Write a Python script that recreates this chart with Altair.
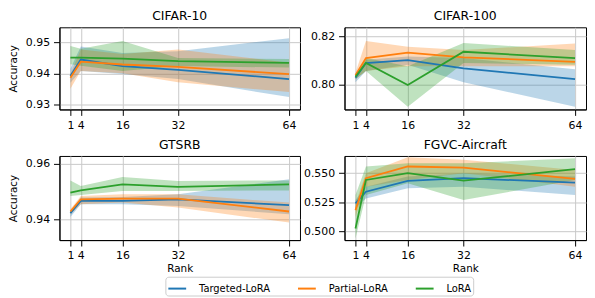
import altair as alt
import pandas as pd

ranks = [1, 4, 16, 32, 64]
methods = ["Targeted-LoRA", "Partial-LoRA", "LoRA"]
colors = ["#1f77b4", "#ff7f0e", "#2ca02c"]

# CIFAR-10
c10_mean = {
    "Targeted-LoRA": [0.9392, 0.9445, 0.9424, 0.9412, 0.9382],
    "Partial-LoRA": [0.9386, 0.9438, 0.9429, 0.9421, 0.9398],
    "LoRA": [0.9451, 0.9451, 0.9448, 0.9440, 0.9434],
}
c10_lo = {
    "Targeted-LoRA": [0.9370, 0.9408, 0.9398, 0.9382, 0.9324],
    "Partial-LoRA": [0.9351, 0.9408, 0.9401, 0.9372, 0.9340],
    "LoRA": [0.9430, 0.9425, 0.9408, 0.9424, 0.9419],
}
c10_hi = {
    "Targeted-LoRA": [0.9415, 0.9487, 0.9466, 0.9472, 0.9514],
    "Partial-LoRA": [0.9398, 0.9477, 0.9463, 0.9477, 0.9435],
    "LoRA": [0.9489, 0.9480, 0.9505, 0.9450, 0.9447],
}

# CIFAR-100
c100_mean = {
    "Targeted-LoRA": [0.8030, 0.8090, 0.8102, 0.8068, 0.8024],
    "Partial-LoRA": [0.8040, 0.8110, 0.8132, 0.8113, 0.8095],
    "LoRA": [0.8034, 0.8090, 0.8000, 0.8136, 0.8110],
}
c100_lo = {
    "Targeted-LoRA": [0.8011, 0.8057, 0.8083, 0.8011, 0.7911],
    "Partial-LoRA": [0.8024, 0.8057, 0.8077, 0.8077, 0.8077],
    "LoRA": [0.8024, 0.8057, 0.7911, 0.8090, 0.8083],
}
c100_hi = {
    "Targeted-LoRA": [0.8040, 0.8103, 0.8117, 0.8110, 0.8064],
    "Partial-LoRA": [0.8050, 0.8180, 0.8156, 0.8143, 0.8170],
    "LoRA": [0.8044, 0.8110, 0.8077, 0.8172, 0.8143],
}

# GTSRB
gts_mean = {
    "Targeted-LoRA": [0.9422, 0.9466, 0.9466, 0.9472, 0.9451],
    "Partial-LoRA": [0.9428, 0.9472, 0.9474, 0.9474, 0.9428],
    "LoRA": [0.9496, 0.9504, 0.9526, 0.9517, 0.9526],
}
gts_lo = {
    "Targeted-LoRA": [0.9408, 0.9454, 0.9454, 0.9448, 0.9418],
    "Partial-LoRA": [0.9418, 0.9454, 0.9460, 0.9442, 0.9388],
    "LoRA": [0.9484, 0.9487, 0.9502, 0.9502, 0.9504],
}
gts_hi = {
    "Targeted-LoRA": [0.9430, 0.9478, 0.9480, 0.9490, 0.9544],
    "Partial-LoRA": [0.9436, 0.9484, 0.9490, 0.9490, 0.9460],
    "LoRA": [0.9540, 0.9520, 0.9552, 0.9538, 0.9540],
}

# FGVC-Aircraft
fg_mean = {
    "Targeted-LoRA": [0.5241, 0.5341, 0.5433, 0.5456, 0.5419],
    "Partial-LoRA": [0.5184, 0.5456, 0.5556, 0.5547, 0.5450],
    "LoRA": [0.5027, 0.5441, 0.5499, 0.5436, 0.5533],
}
fg_lo = {
    "Targeted-LoRA": [0.5199, 0.5284, 0.5370, 0.5384, 0.5313],
    "Partial-LoRA": [0.5127, 0.5384, 0.5441, 0.5499, 0.5384],
    "LoRA": [0.4941, 0.5313, 0.5413, 0.5270, 0.5441],
}
fg_hi = {
    "Targeted-LoRA": [0.5270, 0.5384, 0.5470, 0.5499, 0.5470],
    "Partial-LoRA": [0.5241, 0.5499, 0.5636, 0.5613, 0.5527],
    "LoRA": [0.5313, 0.5556, 0.5584, 0.5584, 0.5627],
}

FONT = "DejaVu Sans"


def make_df(mean, lo, hi):
    rows = []
    for m in methods:
        for i, r in enumerate(ranks):
            rows.append({"rank": r, "method": m, "band": "band " + m,
                         "mean": mean[m][i], "lo": lo[m][i], "hi": hi[m][i]})
    return pd.DataFrame(rows)


LEG = alt.Legend(title=None, orient="none", legendX=107, legendY=252,
                 direction="horizontal", symbolType="stroke",
                 symbolStrokeWidth=2, symbolSize=324, symbolOpacity=1,
                 labelFontSize=10, labelFont=FONT, labelColor="black",
                 labelOffset=12, columnPadding=24, padding=2,
                 strokeColor="#cccccc", fillColor="white",
                 cornerRadius=3)


def panel(title, mean, lo, hi, ydom, yvals, fmt, width, height,
          ytitle, xtitle):
    df = make_df(mean, lo, hi)
    xscale = alt.Scale(domain=[-2.15, 67.15], nice=False, zero=False)
    yscale = alt.Scale(domain=ydom, nice=False, zero=False)
    xaxis = alt.Axis(values=ranks, labelOverlap=False, labelFlush=False,
                     grid=True, titlePadding=3)
    yaxis = alt.Axis(values=yvals, format=fmt, grid=True,
                     labelFlush=False, labelOverlap=False)
    base = alt.Chart(df)
    area = base.mark_area(opacity=0.3, clip=True).encode(
        x=alt.X("rank:Q", scale=xscale, axis=xaxis,
                title=xtitle if xtitle else None),
        y=alt.Y("lo:Q", scale=yscale, axis=yaxis,
                title=ytitle if ytitle else None),
        y2="hi:Q",
        fill=alt.Fill("band:N",
                      scale=alt.Scale(domain=["band " + m for m in methods],
                                      range=colors),
                      legend=None),
    )
    line = base.mark_line(strokeWidth=1.8, clip=True).encode(
        x=alt.X("rank:Q", scale=xscale),
        y=alt.Y("mean:Q", scale=yscale),
        stroke=alt.Stroke("method:N",
                          scale=alt.Scale(domain=methods, range=colors),
                          legend=LEG, sort=methods),
    )
    return alt.layer(area, line).properties(
        width=width, height=height,
        title=alt.TitleParams(title, fontSize=12.5, fontWeight="normal",
                              font=FONT, offset=5, color="black"),
    )


p1 = panel("CIFAR-10", c10_mean, c10_lo, c10_hi, [0.9284, 0.9549],
           [0.93, 0.94, 0.95], ".2f", 243, 83, "Accuracy", None)
p2 = panel("CIFAR-100", c100_mean, c100_lo, c100_hi, [0.790, 0.8236],
           [0.80, 0.82], ".2f", 244, 83, None, None)
p3 = panel("GTSRB", gts_mean, gts_lo, gts_hi, [0.9325, 0.9628],
           [0.94, 0.96], ".2f", 243, 85, "Accuracy", "Rank")
p4 = panel("FGVC-Aircraft", fg_mean, fg_lo, fg_hi, [0.4928, 0.5646],
           [0.500, 0.525, 0.550], ".3f", 244, 85, None, "Rank")

chart = alt.concat(p1, p2, p3, p4, columns=2,
                   spacing=alt.RowColnumber(row=7, column=2)).properties(
    padding=0
).configure_view(
    stroke="black", strokeWidth=1
).configure_axis(
    labelFont=FONT, titleFont=FONT, labelFontSize=11, titleFontSize=10.5,
    labelColor="black", titleColor="black", titleFontWeight="normal",
    tickColor="black", tickSize=6, labelPadding=4, titlePadding=7,
    domainColor="black", gridColor="#c8c8c8", gridWidth=1,
).resolve_scale(
    y="independent", x="independent", stroke="shared", fill="shared"
).resolve_legend(stroke="shared", fill="shared")

chart.save("out.html", embed_options={"renderer": "svg", "actions": False})
